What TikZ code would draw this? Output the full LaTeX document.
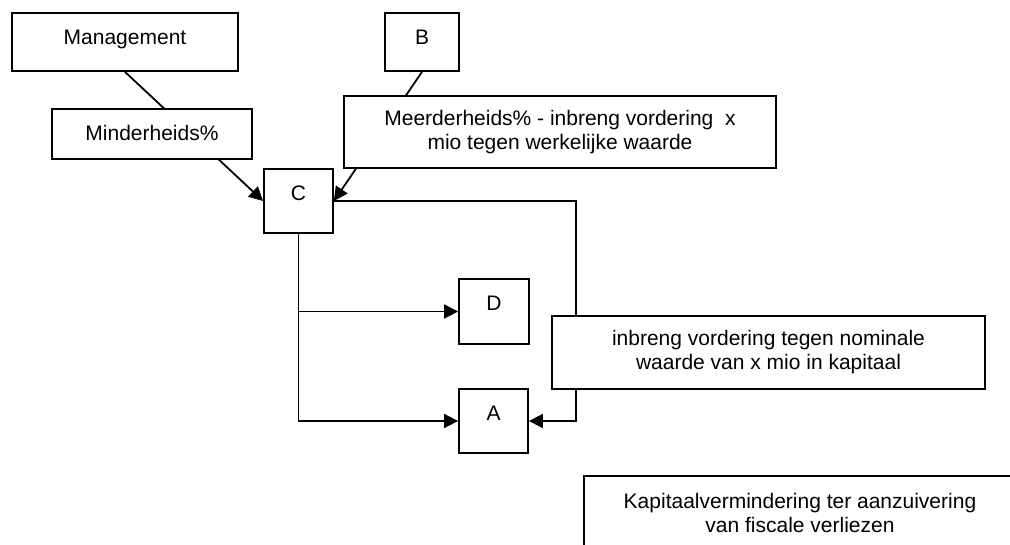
\documentclass[tikz,border=0pt]{standalone}
\usepackage{fontspec}
\setmainfont{Liberation Sans}
\usetikzlibrary{arrows.meta}
\pgfdeclarelayer{bg}
\pgfsetlayers{bg,main}
\begin{document}
\begin{tikzpicture}[x=1pt,y=-1pt,
  every node/.style={font=\fontsize{21}{24}\selectfont},
  box/.style={draw, line width=1.8pt, fill=white, inner sep=0pt, align=center},
  topbox/.style={box, text height=15pt, text depth=#1},
  link/.style={line width=1.8pt},
  arr/.style={link, -{Triangle[length=14pt,width=14pt]}}]
\clip (0,0) rectangle (1010,544);

% boxes
\node[topbox=11pt, minimum width=226pt, minimum height=58pt] (mgmt) at (125,42) {Management};
\node[topbox=11pt, minimum width=74pt, minimum height=58pt] (B) at (422,42) {B};
\node[topbox=3pt, minimum width=200pt, minimum height=50pt] (minder) at (152,134) {Minderheids\%};
\node[box, minimum width=432pt, minimum height=72pt] (meer) at (560,132)
  {Meerderheids\% - inbreng vordering~ x\\mio tegen werkelijke waarde};
\node[topbox=17pt, minimum width=69pt, minimum height=64pt] (C) at (298.5,201) {C};
\node[topbox=18pt, minimum width=70pt, minimum height=65pt] (D) at (494,311.5) {D};
\node[topbox=17pt, minimum width=69pt, minimum height=64pt] (A) at (493.5,421) {A};
\node[box, minimum width=433pt, minimum height=73pt] (inbreng) at (768.5,352.5)
  {inbreng vordering tegen nominale\\waarde van x mio in kapitaal};
\node[box, minimum width=432pt, minimum height=73pt] (kap) at (800,512.5)
  {Kapitaalvermindering ter aanzuivering\\van fiscale verliezen};

\coordinate (rail) at (576,421);

% connectors, kept behind the boxes
\begin{pgfonlayer}{bg}
\fill[white] (0,0) rectangle (1010,544);
\draw[arr] (mgmt.south) -- (C.west);
\draw[arr] (B.south) -- (C.east);
\draw[arr] (C.east) -| (rail) -- (A.east);
\draw[arr] (C.south) |- (D.west);
\draw[arr] (C.south) |- (A.west);
\end{pgfonlayer}
\end{tikzpicture}
\end{document}
